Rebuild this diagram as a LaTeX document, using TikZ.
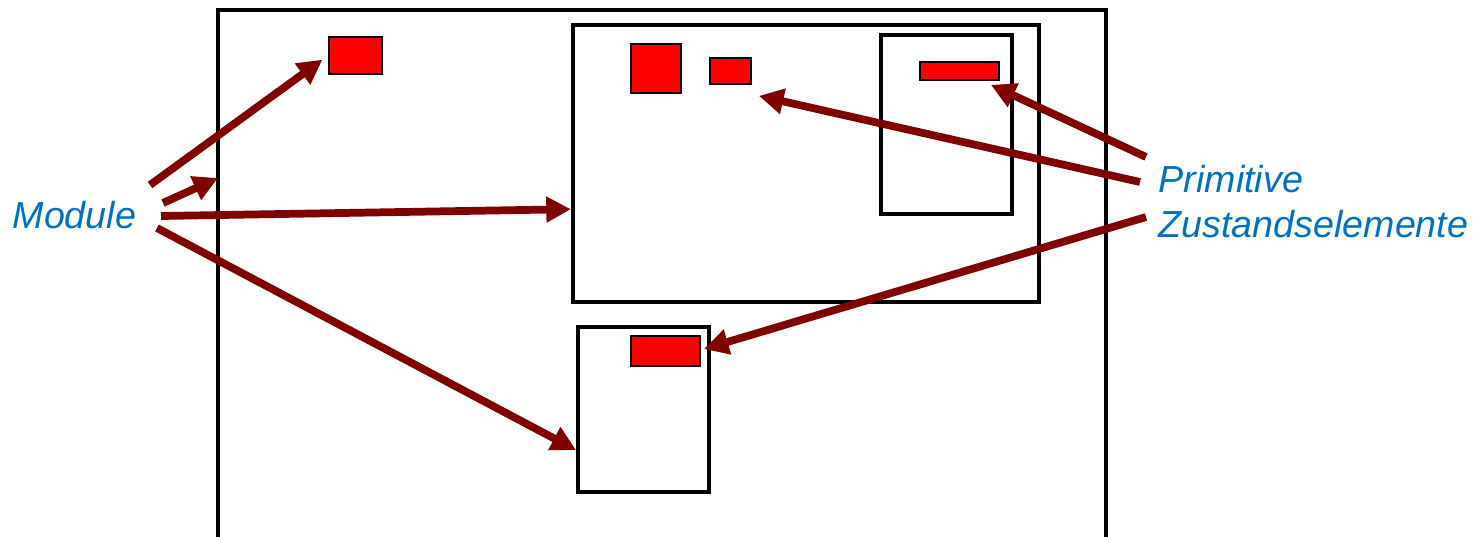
\documentclass[tikz,border=0pt]{standalone}
\usepackage{fontspec}
\setmainfont{Liberation Sans}
\usetikzlibrary{arrows.meta}
\definecolor{darkred}{HTML}{800000}
\definecolor{lblue}{HTML}{0070C0}
\tikzset{
  box/.style={draw,line width=1.1pt,inner sep=0pt},
  elem/.style={draw,fill=red,line width=0.5pt,inner sep=0pt},
  lbl/.style={text=lblue,font=\fontsize{10.7}{12.8}\selectfont\itshape,inner sep=0pt},
  arr/.style={draw=darkred,line width=2.2pt,-{Triangle[length=7pt,width=7pt]}}
}
\begin{document}
\begin{tikzpicture}
  [x=0.01cm,y=-0.01cm]
  \useasboundingbox (0,0) rectangle (1480,536);

  % outer frame, open at the bottom
  \draw[line width=1.1pt] (218,540) |- (1106,10) -- (1106,540);
  \coordinate (fw) at (218,178);

  \node[box,minimum width=4.66cm,minimum height=2.77cm] (big) at (806,163.5) {};
  \node[box,minimum width=1.31cm,minimum height=1.79cm] (inr) at (946.5,124.5) {};
  \node[box,minimum width=1.31cm,minimum height=1.65cm] (low) at (643.5,409.5) {};

  \node[elem,minimum width=0.53cm,minimum height=0.37cm] (r1) at (355.5,55.5) {};
  \node[elem,minimum width=0.50cm,minimum height=0.49cm] (r2) at (656,68.5) {};
  \node[elem,minimum width=0.41cm,minimum height=0.26cm] (r3) at (730.5,71) {};
  \node[elem,minimum width=0.79cm,minimum height=0.18cm] (r4) at (959.5,71) {};
  \node[elem,minimum width=0.69cm,minimum height=0.30cm] (r5) at (665.5,351) {};

  \node[lbl,anchor=base west] (mod) at (12,228) {Module};
  \node[lbl,anchor=north west,align=left] (prim) at (1158,165)
    {Primitive\\Zustandselemente};

  \coordinate (m1) at (150,185);
  \coordinate (m2) at (163,203);
  \coordinate (m3) at (161,216);
  \coordinate (m4) at (157,228);
  \coordinate (p1) at (1146,157);
  \coordinate (p2) at (1140,182);
  \coordinate (p3) at (1146,217);

  \draw[arr,shorten >=2pt] (m1) -- (r1.west);
  \draw[arr] (m2) -- (fw);
  \draw[arr] (m3) -- (big.191.5);
  \draw[arr] (m4) -- (low.211.7);
  \draw[arr] (p1) -- ([shift={(-9,4)}]r4.south east);
  \draw[arr] (p2) -- ([shift={(7,11)}]r3.south east);
  \draw[arr] (p3) -- ([shift={(3,-2)}]r5.east);
\end{tikzpicture}
\end{document}
